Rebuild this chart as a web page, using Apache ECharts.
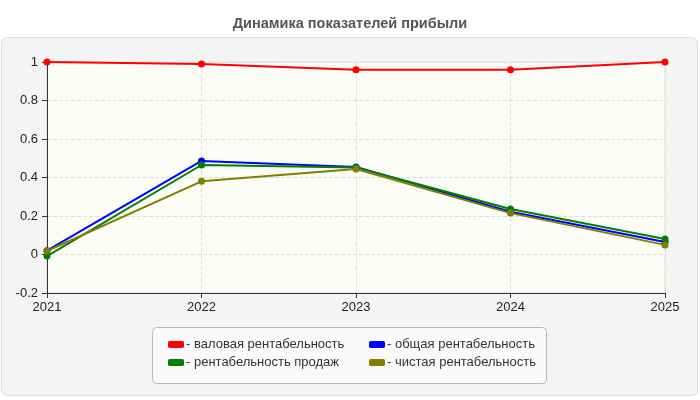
<!DOCTYPE html>
<html><head><meta charset="utf-8">
<script src="https://cdn.jsdelivr.net/npm/echarts@6/dist/echarts.min.js"></script>
<style>html,body{margin:0;padding:0;background:#fff}#c{width:700px;height:400px}</style>
</head><body><div id="c"></div>
<script>
var categories = ['2021','2022','2023','2024','2025'];
var gross = [1.0, 0.99, 0.96, 0.96, 1.0];
var total = [0.02, 0.486, 0.455, 0.222, 0.065];
var sales = [-0.008, 0.465, 0.452, 0.236, 0.08];
var net = [0.018, 0.38, 0.444, 0.215, 0.05];
var names = ['валовая рентабельность','общая рентабельность','рентабельность продаж','чистая рентабельность'];
var colors = ['#ff0000','#0000ff','#008000','#808000'];
var yTicks = { min: -0.2, max: 1, interval: 0.2 };

var FONT = 'Liberation Sans, Arial, sans-serif';
var chart = echarts.init(document.getElementById('c'));
function mk(i, d){
  return { name: names[i], type: 'line', data: d, symbol: 'circle', symbolSize: 7,
    lineStyle: { width: 2, color: colors[i] }, itemStyle: { color: colors[i] }, animation: false };
}
var legendCommon = { orient: 'vertical', itemWidth: 16, itemHeight: 7, itemGap: 5, icon: 'roundRect',
  textStyle: { fontFamily: FONT, fontSize: 13, color: '#333', padding: [0,0,0,-3] },
  formatter: function(n){ return '- ' + n; }, selectedMode: false };
chart.setOption({
  backgroundColor: '#ffffff',
  animation: false,
  title: { text: 'Динамика показателей прибыли', left: 'center', top: 11,
    textStyle: { fontFamily: FONT, fontSize: 14.5, fontWeight: 'bold', color: '#555' } },
  graphic: [
    { type: 'rect', shape: { x: 1.5, y: 37.5, width: 696, height: 358, r: 6 }, z: -10,
      style: { fill: '#f4f4f4', stroke: '#dcdcdc', lineWidth: 1 } },
    { type: 'rect', shape: { x: 152.5, y: 327.5, width: 394, height: 56, r: 4 }, z: -5,
      style: { fill: '#fafafa', stroke: '#b8b8b8', lineWidth: 1 } }
  ],
  grid: { left: 47, right: 35, top: 62, bottom: 107, show: true, backgroundColor: '#fcfcf7', borderColor: '#e0e0e0', borderWidth: 1 },
  legend: [
    Object.assign({ data: [names[0], names[2]], left: 163, top: 333 }, legendCommon),
    Object.assign({ data: [names[1], names[3]], left: 364, top: 333 }, legendCommon)
  ],
  xAxis: { type: 'category', data: categories, boundaryGap: false,
    axisLine: { onZero: false, lineStyle: { color: '#333', width: 1 } },
    axisTick: { show: true, length: 5, lineStyle: { color: '#333' } },
    axisLabel: { color: '#222', fontFamily: FONT, fontSize: 13, margin: 8 },
    splitLine: { show: true, lineStyle: { color: '#dddddd', type: 'dashed' } } },
  yAxis: { type: 'value', min: yTicks.min, max: yTicks.max, interval: yTicks.interval,
    axisLine: { show: true, lineStyle: { color: '#333', width: 1 } },
    axisTick: { show: true, length: 5, lineStyle: { color: '#333' } },
    axisLabel: { color: '#222', fontFamily: FONT, fontSize: 13, margin: 9,
      formatter: function(v){ return String(Math.round(v*10)/10); } },
    splitLine: { show: true, lineStyle: { color: '#dddddd', type: 'dashed' } } },
  series: [mk(0, gross), mk(1, total), mk(2, sales), mk(3, net)]
});
</script></body></html>
